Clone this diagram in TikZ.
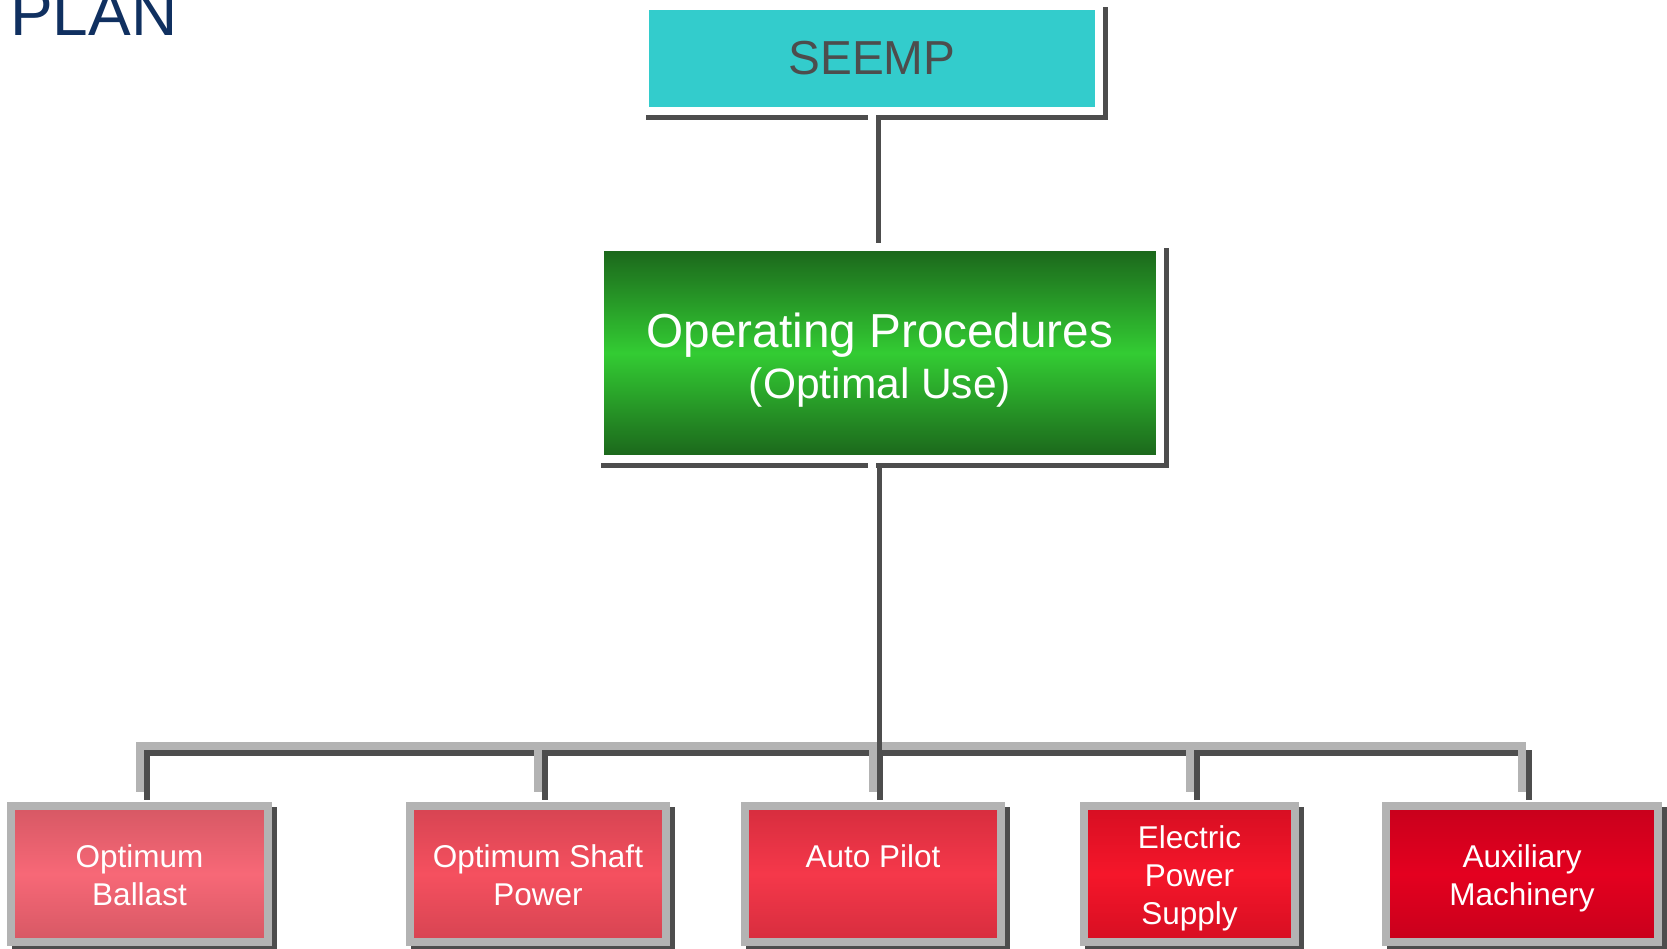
\documentclass[tikz,border=0pt]{standalone}
\usepackage{fontspec}
\setmainfont{Liberation Sans}
\pgfdeclarelayer{shadowl}
\pgfdeclarelayer{connl}
\pgfsetlayers{shadowl,connl,main}
\definecolor{shadowc}{HTML}{4D4D4D}
\definecolor{framegray}{HTML}{B3B3B3}
\definecolor{seempc}{HTML}{33CCCC}
\definecolor{greenedge}{RGB}{27,100,27}
\definecolor{greenmid}{RGB}{51,204,51}
\definecolor{navy}{RGB}{16,48,96}
\definecolor{ballE}{RGB}{214,88,100}
\definecolor{ballM}{RGB}{247,104,119}
\definecolor{shaftE}{RGB}{214,68,82}
\definecolor{shaftM}{RGB}{245,80,95}
\definecolor{autoE}{RGB}{214,45,62}
\definecolor{autoM}{RGB}{245,56,74}
\definecolor{elecE}{RGB}{214,14,34}
\definecolor{elecM}{RGB}{245,22,42}
\definecolor{auxE}{RGB}{200,0,28}
\definecolor{auxM}{RGB}{228,0,31}
\newcommand\cstrut{\rule[-7pt]{0pt}{38pt}}
\begin{document}
\begin{tikzpicture}[x=1pt,y=-1pt,
  topbox/.style={draw=white, line width=8pt, inner sep=0pt, outer sep=0pt},
  bigtext/.style={font=\fontsize{47.7}{51}\selectfont},
  childbox/.style 2 args={draw=framegray, line width=8pt, inner sep=0pt, outer sep=0pt,
    minimum height=136pt, align=center, text=white,
    font=\fontsize{31.5}{38}\selectfont,
    top color=#1, bottom color=#1, middle color=#2},
  shadowfill/.style={fill=shadowc},
  lightbus/.style={draw=framegray, line width=8pt},
  darkbus/.style={draw=shadowc, line width=6pt},
  whiteconn/.style={draw=white, line width=8pt},
  darkconn/.style={draw=shadowc, line width=5pt}
]
\useasboundingbox (0,0) rectangle (1667,949);

\node[anchor=base west, inner sep=0pt, text=navy, font=\fontsize{64}{76}\selectfont] (plan) at (10,36) {PLAN};

\node[topbox, bigtext, fill=seempc, minimum width=454pt, minimum height=105pt, text=shadowc] (seemp) at (872,58.5) {SEEMP};

\node[topbox, bigtext, top color=greenedge, bottom color=greenedge, middle color=greenmid,
  minimum width=560pt, minimum height=212pt, text=white, align=center] (ops) at (880,353)
  {\rule{0pt}{50pt}Operating Procedures\\{\fontsize{42.5}{51}\selectfont (Optimal Use)\rule[-11pt]{0pt}{11pt}}};

\node[childbox={ballE}{ballM}, minimum width=257pt] (ballast) at (139.5,874) {\cstrut Optimum\\\cstrut Ballast};
\node[childbox={shaftE}{shaftM}, minimum width=256pt] (shaft) at (538,874) {\cstrut Optimum Shaft\\\cstrut Power};
\node[childbox={autoE}{autoM}, minimum width=256pt] (auto) at (873,874) {\cstrut Auto Pilot\\\cstrut};
\node[childbox={elecE}{elecM}, minimum width=211pt] (elec) at (1189.5,874) {\cstrut Electric\\\cstrut Power\\\cstrut Supply};
\node[childbox={auxE}{auxM}, minimum width=272pt] (aux) at (1522,874) {\cstrut Auxiliary\\\cstrut Machinery};

\begin{pgfonlayer}{shadowl}
\foreach \n in {seemp,ops,ballast,shaft,auto,elec,aux}
  \fill[shadowfill] ([shift={(1,1)}]\n.north west) rectangle ([shift={(9,9)}]\n.south east);
\end{pgfonlayer}

\coordinate (c1) at (seemp.south);
\coordinate (c2) at (seemp.south |- ops.north);
\coordinate (t1) at (seemp.south |- ops.south);
\coordinate (hub) at (872,746);

\begin{pgfonlayer}{connl}
% top connector
\draw[whiteconn] (c1) -- (c2);
\draw[darkconn] ([shift={(6.5,8)}]c1) -- ([shift={(6.5,3)}]c2);
% bus shadows
\foreach \n in {ballast,shaft,auto,elec,aux}
  \draw[darkbus] ([shift={(7,7)}]hub) -| ([shift={(7,-6)}]\n.north);
% trunk (white)
\draw[whiteconn] (t1) -- (hub);
% bus light
\foreach \n in {ballast,shaft,auto,elec,aux}
  \draw[lightbus] (hub) -| ([shift={(0,-14)}]\n.north);
% dark trunk
\draw[darkconn] ([shift={(7,9)}]t1) -- ([shift={(7,51)}]hub);
\end{pgfonlayer}
\end{tikzpicture}
\end{document}
